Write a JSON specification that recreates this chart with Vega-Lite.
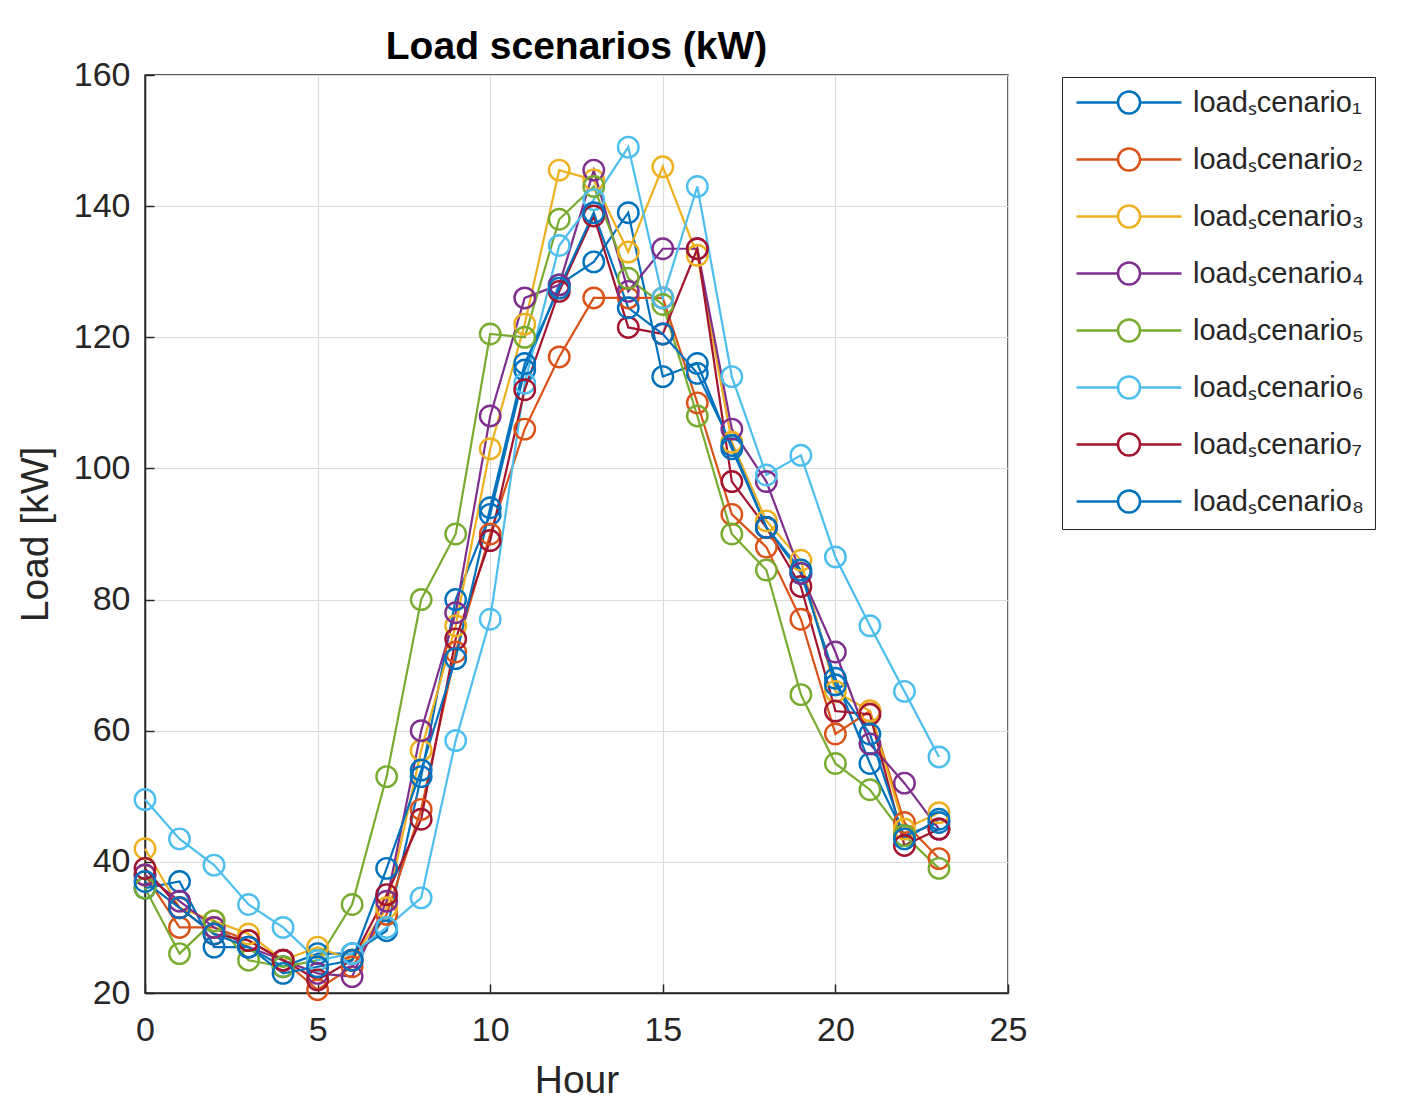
{
  "$schema": "https://vega.github.io/schema/vega-lite/v6.json",
  "width": 863,
  "height": 918,
  "autosize": {"type": "none"},
  "padding": {"left": 145, "top": 75, "right": 409, "bottom": 120},
  "background": "white",
  "title": {
    "text": "Load scenarios (kW)",
    "font": "Liberation Sans",
    "fontSize": 39,
    "fontWeight": "bold",
    "color": "#000000",
    "anchor": "middle",
    "offset": -9
  },
  "config": {
    "view": {"stroke": "#262626", "strokeWidth": 1.5},
    "axis": {
      "labelFont": "Liberation Sans",
      "labelFontSize": 34,
      "labelColor": "#262626",
      "labelFlush": false,
      "titleFont": "Liberation Sans",
      "titleFontSize": 39,
      "titleFontWeight": "normal",
      "titleColor": "#262626",
      "domainColor": "#262626",
      "domainWidth": 1.5,
      "ticks": true,
      "tickSize": -9,
      "tickWidth": 1.5,
      "tickColor": "#262626",
      "gridColor": "#dcdcdc",
      "gridWidth": 1.2
    }
  },
  "data": {
    "values": [
      {"hour": 0, "scenario": "loadₛcenario₁", "load": 36},
      {"hour": 1, "scenario": "loadₛcenario₁", "load": 37},
      {"hour": 2, "scenario": "loadₛcenario₁", "load": 27},
      {"hour": 3, "scenario": "loadₛcenario₁", "load": 27},
      {"hour": 4, "scenario": "loadₛcenario₁", "load": 24},
      {"hour": 5, "scenario": "loadₛcenario₁", "load": 26},
      {"hour": 6, "scenario": "loadₛcenario₁", "load": 26},
      {"hour": 7, "scenario": "loadₛcenario₁", "load": 29.5},
      {"hour": 8, "scenario": "loadₛcenario₁", "load": 53},
      {"hour": 9, "scenario": "loadₛcenario₁", "load": 80},
      {"hour": 10, "scenario": "loadₛcenario₁", "load": 93},
      {"hour": 11, "scenario": "loadₛcenario₁", "load": 115},
      {"hour": 12, "scenario": "loadₛcenario₁", "load": 128},
      {"hour": 13, "scenario": "loadₛcenario₁", "load": 131.5},
      {"hour": 14, "scenario": "loadₛcenario₁", "load": 139},
      {"hour": 15, "scenario": "loadₛcenario₁", "load": 114},
      {"hour": 16, "scenario": "loadₛcenario₁", "load": 116},
      {"hour": 17, "scenario": "loadₛcenario₁", "load": 103},
      {"hour": 18, "scenario": "loadₛcenario₁", "load": 91},
      {"hour": 19, "scenario": "loadₛcenario₁", "load": 84},
      {"hour": 20, "scenario": "loadₛcenario₁", "load": 68},
      {"hour": 21, "scenario": "loadₛcenario₁", "load": 55},
      {"hour": 22, "scenario": "loadₛcenario₁", "load": 44},
      {"hour": 23, "scenario": "loadₛcenario₁", "load": 46},

      {"hour": 0, "scenario": "loadₛcenario₂", "load": 38},
      {"hour": 1, "scenario": "loadₛcenario₂", "load": 30},
      {"hour": 2, "scenario": "loadₛcenario₂", "load": 30},
      {"hour": 3, "scenario": "loadₛcenario₂", "load": 28},
      {"hour": 4, "scenario": "loadₛcenario₂", "load": 25},
      {"hour": 5, "scenario": "loadₛcenario₂", "load": 20.5},
      {"hour": 6, "scenario": "loadₛcenario₂", "load": 24},
      {"hour": 7, "scenario": "loadₛcenario₂", "load": 32},
      {"hour": 8, "scenario": "loadₛcenario₂", "load": 48},
      {"hour": 9, "scenario": "loadₛcenario₂", "load": 72},
      {"hour": 10, "scenario": "loadₛcenario₂", "load": 90},
      {"hour": 11, "scenario": "loadₛcenario₂", "load": 106},
      {"hour": 12, "scenario": "loadₛcenario₂", "load": 117},
      {"hour": 13, "scenario": "loadₛcenario₂", "load": 126},
      {"hour": 14, "scenario": "loadₛcenario₂", "load": 126},
      {"hour": 15, "scenario": "loadₛcenario₂", "load": 126},
      {"hour": 16, "scenario": "loadₛcenario₂", "load": 110},
      {"hour": 17, "scenario": "loadₛcenario₂", "load": 93},
      {"hour": 18, "scenario": "loadₛcenario₂", "load": 88},
      {"hour": 19, "scenario": "loadₛcenario₂", "load": 77},
      {"hour": 20, "scenario": "loadₛcenario₂", "load": 59.5},
      {"hour": 21, "scenario": "loadₛcenario₂", "load": 63},
      {"hour": 22, "scenario": "loadₛcenario₂", "load": 46},
      {"hour": 23, "scenario": "loadₛcenario₂", "load": 40.5},

      {"hour": 0, "scenario": "loadₛcenario₃", "load": 42},
      {"hour": 1, "scenario": "loadₛcenario₃", "load": 33},
      {"hour": 2, "scenario": "loadₛcenario₃", "load": 31},
      {"hour": 3, "scenario": "loadₛcenario₃", "load": 29},
      {"hour": 4, "scenario": "loadₛcenario₃", "load": 25},
      {"hour": 5, "scenario": "loadₛcenario₃", "load": 27},
      {"hour": 6, "scenario": "loadₛcenario₃", "load": 25},
      {"hour": 7, "scenario": "loadₛcenario₃", "load": 33},
      {"hour": 8, "scenario": "loadₛcenario₃", "load": 57},
      {"hour": 9, "scenario": "loadₛcenario₃", "load": 76},
      {"hour": 10, "scenario": "loadₛcenario₃", "load": 103},
      {"hour": 11, "scenario": "loadₛcenario₃", "load": 122},
      {"hour": 12, "scenario": "loadₛcenario₃", "load": 145.5},
      {"hour": 13, "scenario": "loadₛcenario₃", "load": 144},
      {"hour": 14, "scenario": "loadₛcenario₃", "load": 133},
      {"hour": 15, "scenario": "loadₛcenario₃", "load": 146},
      {"hour": 16, "scenario": "loadₛcenario₃", "load": 132.5},
      {"hour": 17, "scenario": "loadₛcenario₃", "load": 104},
      {"hour": 18, "scenario": "loadₛcenario₃", "load": 92},
      {"hour": 19, "scenario": "loadₛcenario₃", "load": 86},
      {"hour": 20, "scenario": "loadₛcenario₃", "load": 66},
      {"hour": 21, "scenario": "loadₛcenario₃", "load": 63},
      {"hour": 22, "scenario": "loadₛcenario₃", "load": 45},
      {"hour": 23, "scenario": "loadₛcenario₃", "load": 47.5},

      {"hour": 0, "scenario": "loadₛcenario₄", "load": 38},
      {"hour": 1, "scenario": "loadₛcenario₄", "load": 34},
      {"hour": 2, "scenario": "loadₛcenario₄", "load": 30},
      {"hour": 3, "scenario": "loadₛcenario₄", "load": 27},
      {"hour": 4, "scenario": "loadₛcenario₄", "load": 25},
      {"hour": 5, "scenario": "loadₛcenario₄", "load": 23},
      {"hour": 6, "scenario": "loadₛcenario₄", "load": 22.5},
      {"hour": 7, "scenario": "loadₛcenario₄", "load": 34},
      {"hour": 8, "scenario": "loadₛcenario₄", "load": 60},
      {"hour": 9, "scenario": "loadₛcenario₄", "load": 78},
      {"hour": 10, "scenario": "loadₛcenario₄", "load": 108},
      {"hour": 11, "scenario": "loadₛcenario₄", "load": 126},
      {"hour": 12, "scenario": "loadₛcenario₄", "load": 128},
      {"hour": 13, "scenario": "loadₛcenario₄", "load": 145.5},
      {"hour": 14, "scenario": "loadₛcenario₄", "load": 127},
      {"hour": 15, "scenario": "loadₛcenario₄", "load": 133.5},
      {"hour": 16, "scenario": "loadₛcenario₄", "load": 133.5},
      {"hour": 17, "scenario": "loadₛcenario₄", "load": 106},
      {"hour": 18, "scenario": "loadₛcenario₄", "load": 98},
      {"hour": 19, "scenario": "loadₛcenario₄", "load": 84},
      {"hour": 20, "scenario": "loadₛcenario₄", "load": 72},
      {"hour": 21, "scenario": "loadₛcenario₄", "load": 58},
      {"hour": 22, "scenario": "loadₛcenario₄", "load": 52},
      {"hour": 23, "scenario": "loadₛcenario₄", "load": 45},

      {"hour": 0, "scenario": "loadₛcenario₅", "load": 36},
      {"hour": 1, "scenario": "loadₛcenario₅", "load": 26},
      {"hour": 2, "scenario": "loadₛcenario₅", "load": 31},
      {"hour": 3, "scenario": "loadₛcenario₅", "load": 25},
      {"hour": 4, "scenario": "loadₛcenario₅", "load": 24},
      {"hour": 5, "scenario": "loadₛcenario₅", "load": 25},
      {"hour": 6, "scenario": "loadₛcenario₅", "load": 33.5},
      {"hour": 7, "scenario": "loadₛcenario₅", "load": 53},
      {"hour": 8, "scenario": "loadₛcenario₅", "load": 80},
      {"hour": 9, "scenario": "loadₛcenario₅", "load": 90},
      {"hour": 10, "scenario": "loadₛcenario₅", "load": 120.5},
      {"hour": 11, "scenario": "loadₛcenario₅", "load": 120},
      {"hour": 12, "scenario": "loadₛcenario₅", "load": 138},
      {"hour": 13, "scenario": "loadₛcenario₅", "load": 143},
      {"hour": 14, "scenario": "loadₛcenario₅", "load": 129},
      {"hour": 15, "scenario": "loadₛcenario₅", "load": 125},
      {"hour": 16, "scenario": "loadₛcenario₅", "load": 108},
      {"hour": 17, "scenario": "loadₛcenario₅", "load": 90},
      {"hour": 18, "scenario": "loadₛcenario₅", "load": 84.5},
      {"hour": 19, "scenario": "loadₛcenario₅", "load": 65.5},
      {"hour": 20, "scenario": "loadₛcenario₅", "load": 55},
      {"hour": 21, "scenario": "loadₛcenario₅", "load": 51},
      {"hour": 22, "scenario": "loadₛcenario₅", "load": 44},
      {"hour": 23, "scenario": "loadₛcenario₅", "load": 39},

      {"hour": 0, "scenario": "loadₛcenario₆", "load": 49.5},
      {"hour": 1, "scenario": "loadₛcenario₆", "load": 43.5},
      {"hour": 2, "scenario": "loadₛcenario₆", "load": 39.5},
      {"hour": 3, "scenario": "loadₛcenario₆", "load": 33.5},
      {"hour": 4, "scenario": "loadₛcenario₆", "load": 30},
      {"hour": 5, "scenario": "loadₛcenario₆", "load": 25},
      {"hour": 6, "scenario": "loadₛcenario₆", "load": 26},
      {"hour": 7, "scenario": "loadₛcenario₆", "load": 30},
      {"hour": 8, "scenario": "loadₛcenario₆", "load": 34.5},
      {"hour": 9, "scenario": "loadₛcenario₆", "load": 58.5},
      {"hour": 10, "scenario": "loadₛcenario₆", "load": 77},
      {"hour": 11, "scenario": "loadₛcenario₆", "load": 113},
      {"hour": 12, "scenario": "loadₛcenario₆", "load": 134},
      {"hour": 13, "scenario": "loadₛcenario₆", "load": 141},
      {"hour": 14, "scenario": "loadₛcenario₆", "load": 149},
      {"hour": 15, "scenario": "loadₛcenario₆", "load": 126},
      {"hour": 16, "scenario": "loadₛcenario₆", "load": 143},
      {"hour": 17, "scenario": "loadₛcenario₆", "load": 114},
      {"hour": 18, "scenario": "loadₛcenario₆", "load": 99},
      {"hour": 19, "scenario": "loadₛcenario₆", "load": 102},
      {"hour": 20, "scenario": "loadₛcenario₆", "load": 86.5},
      {"hour": 21, "scenario": "loadₛcenario₆", "load": 76},
      {"hour": 22, "scenario": "loadₛcenario₆", "load": 66},
      {"hour": 23, "scenario": "loadₛcenario₆", "load": 56},

      {"hour": 0, "scenario": "loadₛcenario₇", "load": 39},
      {"hour": 1, "scenario": "loadₛcenario₇", "load": 33},
      {"hour": 2, "scenario": "loadₛcenario₇", "load": 29},
      {"hour": 3, "scenario": "loadₛcenario₇", "load": 28},
      {"hour": 4, "scenario": "loadₛcenario₇", "load": 25},
      {"hour": 5, "scenario": "loadₛcenario₇", "load": 22},
      {"hour": 6, "scenario": "loadₛcenario₇", "load": 25},
      {"hour": 7, "scenario": "loadₛcenario₇", "load": 35},
      {"hour": 8, "scenario": "loadₛcenario₇", "load": 46.5},
      {"hour": 9, "scenario": "loadₛcenario₇", "load": 74},
      {"hour": 10, "scenario": "loadₛcenario₇", "load": 89},
      {"hour": 11, "scenario": "loadₛcenario₇", "load": 112},
      {"hour": 12, "scenario": "loadₛcenario₇", "load": 127},
      {"hour": 13, "scenario": "loadₛcenario₇", "load": 138.5},
      {"hour": 14, "scenario": "loadₛcenario₇", "load": 121.5},
      {"hour": 15, "scenario": "loadₛcenario₇", "load": 120.5},
      {"hour": 16, "scenario": "loadₛcenario₇", "load": 133.5},
      {"hour": 17, "scenario": "loadₛcenario₇", "load": 98},
      {"hour": 18, "scenario": "loadₛcenario₇", "load": 91},
      {"hour": 19, "scenario": "loadₛcenario₇", "load": 82},
      {"hour": 20, "scenario": "loadₛcenario₇", "load": 63},
      {"hour": 21, "scenario": "loadₛcenario₇", "load": 62.5},
      {"hour": 22, "scenario": "loadₛcenario₇", "load": 42.5},
      {"hour": 23, "scenario": "loadₛcenario₇", "load": 45},

      {"hour": 0, "scenario": "loadₛcenario₈", "load": 37},
      {"hour": 1, "scenario": "loadₛcenario₈", "load": 33},
      {"hour": 2, "scenario": "loadₛcenario₈", "load": 29},
      {"hour": 3, "scenario": "loadₛcenario₈", "load": 27},
      {"hour": 4, "scenario": "loadₛcenario₈", "load": 23},
      {"hour": 5, "scenario": "loadₛcenario₈", "load": 24},
      {"hour": 6, "scenario": "loadₛcenario₈", "load": 25},
      {"hour": 7, "scenario": "loadₛcenario₈", "load": 39},
      {"hour": 8, "scenario": "loadₛcenario₈", "load": 54},
      {"hour": 9, "scenario": "loadₛcenario₈", "load": 71},
      {"hour": 10, "scenario": "loadₛcenario₈", "load": 94},
      {"hour": 11, "scenario": "loadₛcenario₈", "load": 116},
      {"hour": 12, "scenario": "loadₛcenario₈", "load": 127.5},
      {"hour": 13, "scenario": "loadₛcenario₈", "load": 139},
      {"hour": 14, "scenario": "loadₛcenario₈", "load": 124.5},
      {"hour": 15, "scenario": "loadₛcenario₈", "load": 120.5},
      {"hour": 16, "scenario": "loadₛcenario₈", "load": 114.5},
      {"hour": 17, "scenario": "loadₛcenario₈", "load": 103.5},
      {"hour": 18, "scenario": "loadₛcenario₈", "load": 91},
      {"hour": 19, "scenario": "loadₛcenario₈", "load": 84.5},
      {"hour": 20, "scenario": "loadₛcenario₈", "load": 67},
      {"hour": 21, "scenario": "loadₛcenario₈", "load": 59.5},
      {"hour": 22, "scenario": "loadₛcenario₈", "load": 43.5},
      {"hour": 23, "scenario": "loadₛcenario₈", "load": 46.5}
    ]
  },
  "mark": {
    "type": "line",
    "strokeWidth": 2.2,
    "point": {"filled": false, "size": 420, "strokeWidth": 2.4}
  },
  "encoding": {
    "x": {
      "field": "hour",
      "type": "quantitative",
      "title": "Hour",
      "scale": {"domain": [0, 25], "nice": false},
      "axis": {"values": [0, 5, 10, 15, 20, 25], "labelPadding": 29, "titlePadding": 14, "grid": true}
    },
    "y": {
      "field": "load",
      "type": "quantitative",
      "title": "Load [kW]",
      "scale": {"domain": [20, 160], "nice": false, "zero": false},
      "axis": {"values": [20, 40, 60, 80, 100, 120, 140, 160], "labelPadding": 24, "titlePadding": 18, "grid": true}
    },
    "color": {
      "field": "scenario",
      "type": "nominal",
      "title": null,
      "scale": {
        "domain": ["loadₛcenario₁", "loadₛcenario₂", "loadₛcenario₃", "loadₛcenario₄", "loadₛcenario₅", "loadₛcenario₆", "loadₛcenario₇", "loadₛcenario₈"],
        "range": ["#0072BD", "#D95319", "#EDB120", "#7E2F8E", "#77AC30", "#4DBEEE", "#A2142F", "#0072BD"]
      },
      "legend": {
        "orient": "none",
        "legendX": 917,
        "legendY": 2,
        "strokeColor": "#262626",
        "fillColor": "white",
        "padding": 11,
        "rowPadding": 24,
        "symbolType": "M-4.77,0L-1,0M1,0L4.77,0M-1,0A1,1,0,1,1,1,0A1,1,0,1,1,-1,0",
        "symbolSize": 484,
        "symbolOffset": 41.5,
        "symbolStrokeWidth": 2.5,
        "symbolFillColor": "transparent",
        "labelFont": "Liberation Sans",
        "labelFontSize": 29,
        "labelColor": "#262626",
        "labelOffset": 49.5,
        "labelLimit": 400
      }
    }
  }
}
